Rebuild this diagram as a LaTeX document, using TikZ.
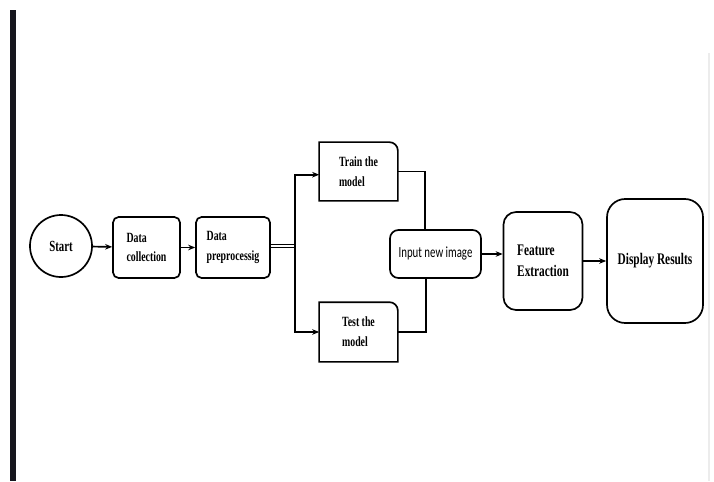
\documentclass[tikz,border=0pt]{standalone}
\usepackage{fontspec}
\setmainfont[FakeStretch=0.7]{Liberation Serif}
\newfontfamily\inputfont[FakeStretch=0.7]{Carlito}
\usetikzlibrary{arrows.meta,positioning}
\definecolor{barcol}{HTML}{16161E}

\begin{document}
\begin{tikzpicture}[x=0.025cm, y=-0.025cm, line width=1.2pt,
    arr/.style={-{Stealth[length=5pt,width=4pt]}},
    box/.style={draw, rounded corners=4pt, align=left, inner sep=0pt,
        font=\bfseries\fontsize{10}{14}\selectfont},
    bigbox/.style={box, rounded corners=9pt, font=\bfseries\fontsize{11.5}{15}\selectfont},
    halfbox/.style={align=left, inner sep=0pt, font=\bfseries\fontsize{10}{14}\selectfont}]
    % 1. 画布与左右边线
    \useasboundingbox (0,0) rectangle (714,481);
    \fill[barcol] (10,10) rectangle (16,481);
    \draw[gray!15, line width=1pt] (709,53) -- (709,481);

    % 2. 左侧三个节点
    \node[draw, circle, minimum size=1.55cm, inner sep=0pt,
        font=\bfseries\fontsize{11}{13}\selectfont] (start) at (61,246) {Start};
    \node[box, minimum width=1.675cm, minimum height=1.525cm] (coll) at (146.5,247.5) {Data\\collection};
    \node[box, minimum width=1.85cm, minimum height=1.525cm] (prep) at (233,247.5) {Data\\preprocessig};

    % 3. 训练与测试 (只有右上角是圆角)
    \node[halfbox, minimum width=1.925cm, minimum height=1.425cm] (train) at (358.5,171.5) {Train the\\model};
    \node[halfbox, minimum width=1.925cm, minimum height=1.45cm] (test) at (358.5,332) {Test the\\model};
    \foreach \n in {train,test}
        \draw (\n.south east) -- (\n.south west) -- (\n.north west)
            [rounded corners=6pt] -- (\n.north east) [sharp corners] -- (\n.south east) -- cycle;

    % 4. 右侧节点
    \node[draw, rounded corners=6pt, minimum width=2.275cm, minimum height=1.2cm, inner sep=0pt,
        font=\inputfont\fontsize{11}{13}\selectfont] (input) at (435.5,254) {Input new image};
    \node[bigbox, minimum width=1.975cm, minimum height=2.45cm] (feat) at (543,261) {Feature\\Extraction};
    \node[bigbox, rounded corners=13pt, minimum width=2.4cm, minimum height=3.1cm] (disp) at (655,261) {Display Results};

    % 5. 连线
    \coordinate (split) at (295,246);
    \draw[arr] (start) -- (coll);
    \draw[arr] (coll) -- (prep);
    \draw[double, double distance=1.2pt, line width=0.9pt] (prep.east |- split) -- (split);
    \draw[arr] (split) |- ([yshift=-0.08cm]train.west);
    \draw[arr] (split) |- (test.west);
    \draw (train.east) -| ([xshift=-0.26cm]input.north);
    \draw (test.east) -| ([xshift=-0.24cm]input.south);
    \draw[arr] (input.east) -- (input.east -| feat.west);
    \draw[arr] (feat) -- (disp);
\end{tikzpicture}
\end{document}
